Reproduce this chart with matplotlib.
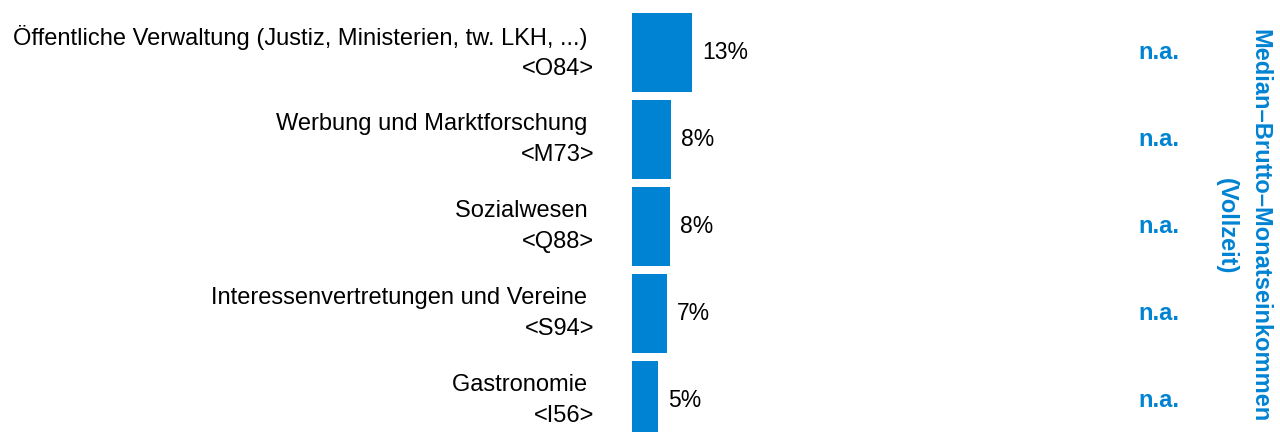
import matplotlib.pyplot as plt
import numpy as np

plt.rcParams['font.family'] = ['Liberation Sans', 'DejaVu Sans']

# data
categories = ['Öffentliche Verwaltung (Justiz, Ministerien, tw. LKH, ...) ',
              'Werbung und Marktforschung ',
              'Sozialwesen ',
              'Interessenvertretungen und Vereine ',
              'Gastronomie ']
codes = ['<O84>', '<M73>', '<Q88>', '<S94>', '<I56>']
shares = [12.5, 8.1, 8.0, 7.3, 5.4]
share_labels = ['13%', '8%', '8%', '7%', '5%']
median_income = ['n.a.', 'n.a.', 'n.a.', 'n.a.', 'n.a.']

blue = '#0083d3'
W, H = 1280, 432
px_per_pct = 4.8
x0_px = 632
row_px = 87
first_center_px = 52.5

fig = plt.figure(figsize=(W / 100, H / 100), dpi=100)
ax = fig.add_axes([0, 0, 1, 1])
ax.set_xlim(-x0_px / px_per_pct, (W - x0_px) / px_per_pct)
ax.set_ylim((H - first_center_px) / row_px, -first_center_px / row_px)
ax.axis('off')

y = np.arange(len(categories))
ax.barh(y, shares, height=0.91, color=blue, left=0)


def px_x(p):
    return (p - x0_px) / px_per_pct


for i, (cat, code, s, lab, na) in enumerate(zip(categories, codes, shares,
                                                share_labels, median_income)):
    ax.text(px_x(594), i, cat + '\n' + code, ha='right', va='center',
            multialignment='right', fontsize=17, linespacing=1.5)
    ax.text(s + 10 / px_per_pct, i, lab, ha='left', va='center', fontsize=16.5)
    ax.text(px_x(1159), i, na, ha='center', va='center', fontsize=17,
            fontweight='bold', color=blue)

fig.text(1243 / W, 1 - 226 / H, 'Median–Brutto–Monatseinkommen\n(Vollzeit)',
         rotation=-90, ha='center', va='center', fontsize=17,
         fontweight='bold', color=blue, linespacing=1.6)

fig.savefig('out.png', dpi=100)
